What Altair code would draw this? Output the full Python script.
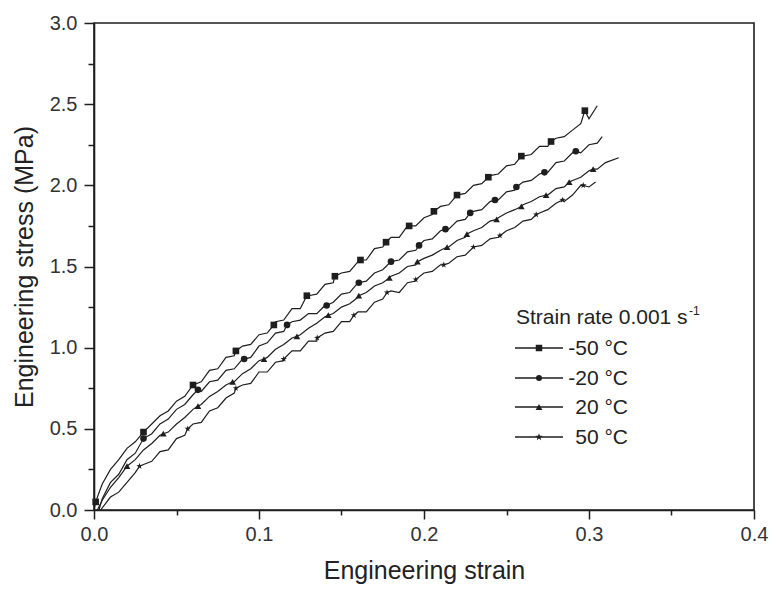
import altair as alt
import pandas as pd

# ---------------- data ----------------
series_names = ["-50 °C", "-20 °C", "20 °C", "50 °C"]

m50_strain = [0.000, 0.005, 0.010, 0.015, 0.020, 0.025, 0.030, 0.035, 0.040, 0.045,
              0.050, 0.055, 0.060, 0.065, 0.070, 0.075, 0.080, 0.085, 0.090, 0.095,
              0.100, 0.105, 0.110, 0.115, 0.120, 0.125, 0.130, 0.135, 0.140, 0.145,
              0.150, 0.155, 0.160, 0.165, 0.170, 0.175, 0.180, 0.185, 0.190, 0.195,
              0.200, 0.205, 0.210, 0.215, 0.220, 0.225, 0.230, 0.235, 0.240, 0.245,
              0.250, 0.255, 0.260, 0.265, 0.270, 0.275, 0.280, 0.285, 0.290, 0.295,
              0.300, 0.305]
m50_stress = [0.00, 0.16, 0.25, 0.31, 0.38, 0.42, 0.48, 0.53, 0.58, 0.61,
              0.67, 0.70, 0.77, 0.79, 0.86, 0.87, 0.94, 0.95, 1.01, 1.02,
              1.08, 1.09, 1.16, 1.17, 1.24, 1.24, 1.32, 1.33, 1.39, 1.40,
              1.46, 1.47, 1.53, 1.54, 1.61, 1.62, 1.68, 1.68, 1.75, 1.75,
              1.80, 1.82, 1.87, 1.88, 1.94, 1.95, 2.00, 2.01, 2.06, 2.07,
              2.12, 2.13, 2.18, 2.19, 2.24, 2.24, 2.29, 2.30, 2.34, 2.38,
              2.41, 2.49]

m20_strain = [0.003, 0.005, 0.010, 0.015, 0.020, 0.025, 0.030, 0.035, 0.040, 0.045,
              0.050, 0.055, 0.060, 0.065, 0.070, 0.075, 0.080, 0.085, 0.090, 0.095,
              0.100, 0.105, 0.110, 0.115, 0.120, 0.125, 0.130, 0.135, 0.140, 0.145,
              0.150, 0.155, 0.160, 0.165, 0.170, 0.175, 0.180, 0.185, 0.190, 0.195,
              0.200, 0.205, 0.210, 0.215, 0.220, 0.225, 0.230, 0.235, 0.240, 0.245,
              0.250, 0.255, 0.260, 0.265, 0.270, 0.275, 0.280, 0.285, 0.290, 0.295,
              0.300, 0.305, 0.308]
m20_stress = [0.00, 0.07, 0.17, 0.22, 0.31, 0.35, 0.44, 0.47, 0.53, 0.56,
              0.62, 0.65, 0.71, 0.73, 0.79, 0.80, 0.86, 0.87, 0.93, 0.94,
              1.01, 1.03, 1.09, 1.10, 1.16, 1.17, 1.21, 1.21, 1.26, 1.28,
              1.33, 1.34, 1.40, 1.41, 1.46, 1.48, 1.53, 1.54, 1.59, 1.60,
              1.66, 1.67, 1.72, 1.73, 1.78, 1.79, 1.84, 1.85, 1.90, 1.91,
              1.96, 1.97, 2.02, 2.03, 2.07, 2.08, 2.14, 2.15, 2.20, 2.20,
              2.25, 2.26, 2.30]

p20_strain = [0.002, 0.005, 0.010, 0.015, 0.020, 0.025, 0.030, 0.035, 0.040, 0.045,
              0.050, 0.055, 0.060, 0.065, 0.070, 0.075, 0.080, 0.085, 0.090, 0.095,
              0.100, 0.105, 0.110, 0.115, 0.120, 0.125, 0.130, 0.135, 0.140, 0.145,
              0.150, 0.155, 0.160, 0.165, 0.170, 0.175, 0.180, 0.185, 0.190, 0.195,
              0.200, 0.205, 0.210, 0.215, 0.220, 0.225, 0.230, 0.235, 0.240, 0.245,
              0.250, 0.255, 0.260, 0.265, 0.270, 0.275, 0.280, 0.285, 0.290, 0.295,
              0.300, 0.305, 0.310, 0.318]
p20_stress = [0.00, 0.06, 0.14, 0.20, 0.27, 0.31, 0.37, 0.41, 0.46, 0.48,
              0.53, 0.57, 0.62, 0.65, 0.70, 0.73, 0.77, 0.79, 0.84, 0.87,
              0.92, 0.94, 0.99, 1.02, 1.06, 1.08, 1.12, 1.15, 1.19, 1.21,
              1.25, 1.27, 1.31, 1.34, 1.38, 1.40, 1.44, 1.46, 1.50, 1.51,
              1.55, 1.57, 1.60, 1.62, 1.66, 1.68, 1.72, 1.74, 1.78, 1.80,
              1.83, 1.85, 1.88, 1.90, 1.93, 1.94, 1.98, 1.99, 2.03, 2.05,
              2.09, 2.10, 2.14, 2.17]

p50_strain = [0.004, 0.010, 0.015, 0.020, 0.025, 0.030, 0.035, 0.040, 0.045,
              0.050, 0.055, 0.060, 0.065, 0.070, 0.075, 0.080, 0.085, 0.090, 0.095,
              0.100, 0.105, 0.110, 0.115, 0.120, 0.125, 0.130, 0.135, 0.140, 0.145,
              0.150, 0.155, 0.160, 0.165, 0.170, 0.175, 0.180, 0.185, 0.190, 0.195,
              0.200, 0.205, 0.210, 0.215, 0.220, 0.225, 0.230, 0.235, 0.240, 0.245,
              0.250, 0.255, 0.260, 0.265, 0.270, 0.275, 0.280, 0.285, 0.290, 0.295,
              0.300, 0.304]
p50_stress = [0.00, 0.08, 0.11, 0.17, 0.23, 0.28, 0.30, 0.36, 0.37,
              0.44, 0.46, 0.53, 0.54, 0.61, 0.63, 0.69, 0.72, 0.77, 0.78,
              0.85, 0.85, 0.91, 0.92, 0.98, 0.98, 1.04, 1.04, 1.09, 1.10,
              1.16, 1.16, 1.22, 1.22, 1.28, 1.30, 1.35, 1.34, 1.40, 1.41,
              1.46, 1.47, 1.51, 1.52, 1.56, 1.57, 1.62, 1.63, 1.67, 1.68,
              1.72, 1.74, 1.78, 1.79, 1.83, 1.85, 1.89, 1.90, 1.94, 2.00,
              1.99, 2.02]

# marker positions along each curve
m50_mk_strain = [0.001, 0.030, 0.060, 0.086, 0.109, 0.129, 0.146, 0.1615, 0.177,
                 0.191, 0.206, 0.220, 0.239, 0.259, 0.277, 0.2975]
m50_mk_stress = [0.05, 0.48, 0.77, 0.98, 1.14, 1.32, 1.44, 1.54, 1.65,
                 1.75, 1.84, 1.94, 2.05, 2.18, 2.27, 2.46]
m20_mk_strain = [0.030, 0.063, 0.091, 0.117, 0.141, 0.1605, 0.180, 0.197, 0.213,
                 0.228, 0.243, 0.256, 0.273, 0.292]
m20_mk_stress = [0.44, 0.74, 0.93, 1.14, 1.26, 1.40, 1.53, 1.63, 1.73,
                 1.83, 1.91, 1.99, 2.08, 2.21]
p20_mk_strain = [0.020, 0.042, 0.063, 0.084, 0.103, 0.123, 0.142, 0.1605, 0.179,
                 0.196, 0.214, 0.226, 0.244, 0.259, 0.274, 0.288, 0.3025]
p20_mk_stress = [0.27, 0.47, 0.64, 0.79, 0.93, 1.07, 1.20, 1.32, 1.43,
                 1.53, 1.62, 1.70, 1.79, 1.87, 1.94, 2.02, 2.10]
p50_mk_strain = [0.0276, 0.0568, 0.086, 0.115, 0.1353, 0.1575, 0.1776, 0.195, 0.212,
                 0.230, 0.246, 0.268, 0.284, 0.2965]
p50_mk_stress = [0.27, 0.50, 0.75, 0.93, 1.06, 1.20, 1.34, 1.42, 1.51,
                 1.62, 1.69, 1.82, 1.91, 2.00]

x_ticks = [0.0, 0.05, 0.1, 0.15, 0.2, 0.25, 0.3, 0.35, 0.4]
y_ticks = [0.0, 0.25, 0.5, 0.75, 1.0, 1.25, 1.5, 1.75, 2.0, 2.25, 2.5, 2.75, 3.0]

# ---------------- build tables ----------------
curves = [(m50_strain, m50_stress, m50_mk_strain, m50_mk_stress),
          (m20_strain, m20_stress, m20_mk_strain, m20_mk_stress),
          (p20_strain, p20_stress, p20_mk_strain, p20_mk_stress),
          (p50_strain, p50_stress, p50_mk_strain, p50_mk_stress)]

line_rows, mk_rows = [], []
for name, (xs, ys, mxs, mys) in zip(series_names, curves):
    pts = list(zip(xs, ys)) + list(zip(mxs, mys))
    pts.sort(key=lambda p: p[0])
    for x, y in pts:
        line_rows.append({"strain": x, "stress": y, "series": name})
    for x, y in zip(mxs, mys):
        mk_rows.append({"strain": x, "stress": y, "series": name})
line_df = pd.DataFrame(line_rows)
mk_df = pd.DataFrame(mk_rows)

STAR = ("M0,-1L0.235,-0.324L0.951,-0.309L0.380,0.124L0.588,0.809L0,0.400"
        "L-0.588,0.809L-0.380,0.124L-0.951,-0.309L-0.235,-0.324Z")
shapes = ["square", "circle", "triangle-up", STAR]
sizes = [42, 36, 46, 60]

FONT = "Liberation Sans"
INK = "#1e1e1e"

xscale = alt.Scale(domain=[0, 0.4], nice=False, zero=False)
yscale = alt.Scale(domain=[0, 3.0], nice=False, zero=False)

x_axis = alt.Axis(
    values=x_ticks, title="Engineering strain", grid=False,
    labelExpr="abs(datum.value*10 - round(datum.value*10)) < 0.001 ? format(datum.value, '.1f') : ''",
    tickSize={"condition": {"test": "abs(datum.value*10 - round(datum.value*10)) < 0.001", "value": 9}, "value": 5},
    labelOverlap=False, labelFlush=False, labelPadding=5, titlePadding=14,
)
y_axis = alt.Axis(
    values=y_ticks, title="Engineering stress (MPa)", grid=False,
    labelExpr="abs(datum.value*2 - round(datum.value*2)) < 0.001 ? format(datum.value, '.1f') : ''",
    tickSize={"condition": {"test": "abs(datum.value*2 - round(datum.value*2)) < 0.001", "value": 10}, "value": 6},
    labelOverlap=False, labelFlush=False, labelPadding=7, titlePadding=12,
)

lines = alt.Chart(line_df).mark_line(color=INK, strokeWidth=1.2, clip=True).encode(
    x=alt.X("strain:Q", scale=xscale, axis=x_axis),
    y=alt.Y("stress:Q", scale=yscale, axis=y_axis),
    detail="series:N",
    order="strain:Q",
)

markers = alt.Chart(mk_df).mark_point(filled=True, color=INK, opacity=1, size=44).encode(
    x=alt.X("strain:Q", scale=xscale),
    y=alt.Y("stress:Q", scale=yscale),
    shape=alt.Shape("series:N", scale=alt.Scale(domain=series_names, range=shapes), legend=None),
)

# ---------------- manual legend (pixel positions inside plot area) ----------------
leg_layers = []
title_x, title_y = 422, 295
leg_layers.append(
    alt.Chart(pd.DataFrame({"t": ["Strain rate 0.001 s"]})).mark_text(
        align="left", baseline="middle", font=FONT, fontSize=21, color="#222")
    .encode(text="t:N", x=alt.value(title_x), y=alt.value(title_y))
)
leg_layers.append(
    alt.Chart(pd.DataFrame({"t": ["-1"]})).mark_text(
        align="left", baseline="middle", font=FONT, fontSize=12, color="#222")
    .encode(text="t:N", x=alt.value(title_x + 173), y=alt.value(title_y - 7))
)
row_y = [325, 355, 384, 414]
for i, name in enumerate(series_names):
    yv = row_y[i]
    leg_layers.append(
        alt.Chart(pd.DataFrame({"s": [name]})).mark_rule(color=INK, strokeWidth=1.6)
        .encode(x=alt.value(421), x2=alt.value(469), y=alt.value(yv))
    )
    leg_layers.append(
        alt.Chart(pd.DataFrame({"s": [name]})).mark_point(
            filled=True, color=INK, opacity=1, shape=shapes[i], size=sizes[i])
        .encode(x=alt.value(445), y=alt.value(yv))
    )
    leg_layers.append(
        alt.Chart(pd.DataFrame({"s": [name]})).mark_text(
            align="right", baseline="middle", font=FONT, fontSize=21, color="#222")
        .encode(text="s:N", x=alt.value(534), y=alt.value(yv + 1))
    )

chart = alt.layer(lines, markers, *leg_layers).properties(
    width=660, height=487,
    background="white",
    autosize=alt.AutoSizeParams(type="none"),
    padding={"left": 86, "top": 15, "right": 14, "bottom": 74},
).configure_view(
    stroke=INK, strokeWidth=1.6
).configure_axis(
    grid=False, domainColor=INK, domainWidth=1.6, tickColor=INK, tickWidth=1.5,
    labelFont=FONT, labelFontSize=20, labelColor="#333",
    titleFont=FONT, titleFontSize=25, titleFontWeight="normal", titleColor="#222",
)

chart.save("out.html", embed_options={"renderer": "svg", "actions": False})
